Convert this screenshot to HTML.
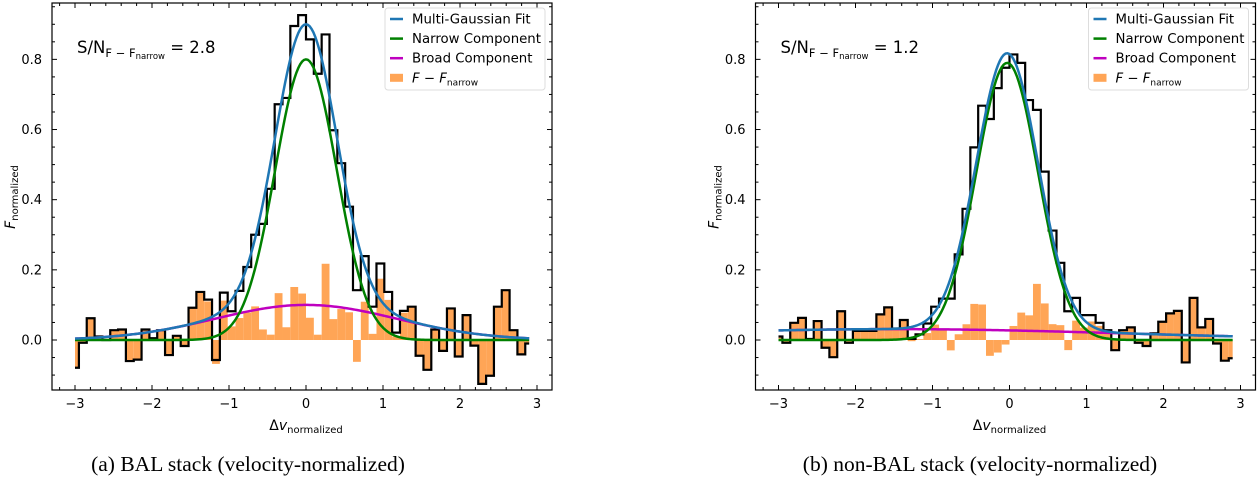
<!DOCTYPE html>
<html><head><meta charset="utf-8"><style>
html,body{margin:0;padding:0;background:#fff;width:1258px;height:480px;overflow:hidden}
svg{display:block;font-family:"DejaVu Sans","Liberation Sans",sans-serif}
.cap{font-family:"Liberation Serif",serif;font-size:21.5px}
</style></head><body>
<svg id="fig" width="1258" height="480" viewBox="0 0 1258 480"></svg>
<script>
// ---- data ----
const binCount = 59;
const binStart = -3.0;
const binStep = 6/59;
const balHist = [-0.079,-0.008,0.062,0.010,0.000,0.028,0.030,-0.060,-0.056,0.030,0.005,0.028,-0.043,0.012,-0.017,0.092,0.137,0.115,-0.057,0.135,0.082,0.140,0.208,0.300,0.331,0.431,0.672,0.690,0.895,0.926,0.857,0.759,0.871,0.598,0.504,0.380,0.142,0.239,0.095,0.218,0.137,0.021,0.083,0.095,-0.045,-0.085,0.030,-0.031,0.090,-0.047,0.071,-0.016,-0.125,-0.102,0.095,0.142,0.028,-0.041,-0.010];
const nonbalHist = [0.010,-0.008,0.049,0.063,0.003,0.054,-0.022,-0.049,0.082,-0.008,0.026,0.026,0.026,0.073,0.093,0.033,0.057,0.003,0.016,0.047,0.095,0.118,0.118,0.244,0.374,0.549,0.668,0.630,0.718,0.776,0.814,0.790,0.684,0.656,0.480,0.312,0.220,0.082,0.120,0.071,0.071,0.049,0.028,-0.029,0.028,0.036,-0.008,-0.017,0.019,0.052,0.076,0.083,-0.064,0.120,0.036,0.060,-0.010,-0.059,-0.052];
// gaussian params: [amplitude, center, sigma]
const balNarrow = [0.80, 0.0, 0.40];
const balBroad = [0.10, 0.0, 1.18];
const nonbalNarrow = [0.79, -0.03, 0.40];
const nonbalBroad = [0.031, -1.5, 3.0];
const xTicks = [-3,-2,-1,0,1,2,3];
const yTicks = [0.0,0.2,0.4,0.6,0.8];
const balSN = "2.8";
const nonbalSN = "1.2";

const NS="http://www.w3.org/2000/svg";
const fig=document.getElementById('fig');
function mk(tag,attrs,parent){const e=document.createElementNS(NS,tag);for(const k in attrs)e.setAttribute(k,attrs[k]);(parent||fig).appendChild(e);return e;}
function gauss(p,x){return p[0]*Math.exp(-(x-p[1])*(x-p[1])/(2*p[2]*p[2]));}

function panel(ox, hist, narrow, broad, sn, caption, capX, id){
  const L=52+ox,R=552+ox,T=3,B=390;
  const X=v=>306+ox+v*77.0;
  const Y=v=>340-v*350.8;
  const g=mk('g',{});
  
  
  const centers=[];for(let k=0;k<binCount;k++)centers.push(binStart+k*binStep);
  const lastC=centers[binCount-1];
  const bars=mk('g',{},g);
  
  
  centers.forEach((c,k)=>{
    const r=hist[k]-gauss(narrow,c);
    const x0=X(Math.max(c-binStep/2,binStart)),x1=X(Math.min(c+binStep/2,lastC));
    const y0=Y(Math.max(r,0)),y1=Y(Math.min(r,0));
    const b=mk('rect',{x:x0,y:y0,width:x1-x0,height:Math.max(y1-y0,0.01),fill:'#ffa556'},bars);
    
    
  });
  let d='M'+X(centers[0])+','+Y(hist[0]);
  for(let k=0;k<binCount-1;k++){const m=X((centers[k]+centers[k+1])/2);d+=' H'+m+' V'+Y(hist[k+1]);}
  d+=' H'+X(lastC);
  const st=mk('path',{d:d,fill:'none',stroke:'#000','stroke-width':2.2,'stroke-linejoin':'miter'},g);
  
  
  function curve(fn,color,name){
    let p='';for(let i=0;i<=240;i++){const x=-3+i*(lastC+3)/240;p+=(i?' L':'M')+X(x).toFixed(2)+','+Y(fn(x)).toFixed(2);}
    const c=mk('path',{d:p,fill:'none',stroke:color,'stroke-width':2.5},g);
    
    
  }
  curve(x=>gauss(broad,x),'#bf00bf',id+'-broad-component');
  curve(x=>gauss(narrow,x),'#008000',id+'-narrow-component');
  curve(x=>gauss(narrow,x)+gauss(broad,x),'#1f77b4',id+'-multi-gaussian-fit');
  const fr=mk('rect',{x:L,y:T,width:R-L,height:B-T,fill:'none',stroke:'#000','stroke-width':1.2},g);
  
  
  for(let v=-3.2;v<=3.21;v+=0.2){const x=X(v);if(x<L||x>R)continue;const major=Math.abs(v-Math.round(v))<1e-6;const len=major?5:3;
    mk('line',{x1:x,x2:x,y1:B,y2:B-len,stroke:'#000','stroke-width':1},g);mk('line',{x1:x,x2:x,y1:T,y2:T+len,stroke:'#000','stroke-width':1},g);}
  for(let v=-0.15;v<=0.96;v+=0.05){const y=Y(v);if(y<T||y>B)continue;const major=Math.abs(v*5-Math.round(v*5))<1e-6;const len=major?5:3;
    mk('line',{x1:L,x2:L+len,y1:y,y2:y,stroke:'#000','stroke-width':1},g);mk('line',{x1:R,x2:R-len,y1:y,y2:y,stroke:'#000','stroke-width':1},g);}
  xTicks.forEach(v=>{const t=mk('text',{x:X(v),y:408,'font-size':13,'text-anchor':'middle'},g);t.textContent=(v<0?'\u2212'+(-v):String(v));
    });
  yTicks.forEach(v=>{const t=mk('text',{x:L-10,y:Y(v)+4.5,'font-size':13,'text-anchor':'end'},g);t.textContent=v.toFixed(1);
    });
  const xl=mk('text',{x:306+ox,y:430,'font-size':14,'text-anchor':'middle'},g);
  xl.innerHTML='Δ<tspan font-style="italic">v</tspan><tspan font-size="10" dy="3">normalized</tspan>';
  
  
  const yl=mk('text',{x:0,y:0,'font-size':14,'text-anchor':'middle',transform:'translate('+(15+ox)+',197) rotate(-90)'},g);
  yl.innerHTML='<tspan font-style="italic">F</tspan><tspan font-size="10" dy="3">normalized</tspan>';
  
  
  const sa=mk('text',{x:77+ox,y:53,'font-size':16.5},g);
  sa.innerHTML='S/N<tspan font-size="11.5" dy="4">F − F</tspan><tspan font-size="8.5" dy="2">narrow</tspan><tspan dy="-6"> = '+sn+'</tspan>';
  
  
  const lg=mk('g',{},g);
  
  
  mk('rect',{x:385+ox,y:8,width:160,height:82,rx:3,fill:'#fff','fill-opacity':0.8,stroke:'#ddd','stroke-width':1},lg);
  const entries=[['Multi-Gaussian Fit','#1f77b4'],['Narrow Component','#008000'],['Broad Component','#bf00bf'],['F − F','#ffa556']];
  entries.forEach((en,i)=>{
    const y=19+i*19.6;
    if(i<3){mk('line',{x1:390+ox,x2:403+ox,y1:y,y2:y,stroke:en[1],'stroke-width':2.5},lg);}
    else{mk('rect',{x:390+ox,y:y-4,width:13,height:8,fill:en[1]},lg);}
    const t=mk('text',{x:412+ox,y:y+4.5,'font-size':13.3},lg);
    if(i<3)t.textContent=en[0];
    else t.innerHTML='<tspan font-style="italic">F</tspan> − <tspan font-style="italic">F</tspan><tspan font-size="9" dy="3">narrow</tspan>';
    
    
  });
  const cp=mk('text',{x:capX+ox,y:471,'text-anchor':'middle','class':'cap'},g);
  cp.textContent=caption;
  
  
}
panel(0,balHist,balNarrow,balBroad,balSN,'(a) BAL stack (velocity-normalized)',248,'bal');
panel(703.5,nonbalHist,nonbalNarrow,nonbalBroad,nonbalSN,'(b) non-BAL stack (velocity-normalized)',276.5,'nonbal');
</script>
</body></html>
